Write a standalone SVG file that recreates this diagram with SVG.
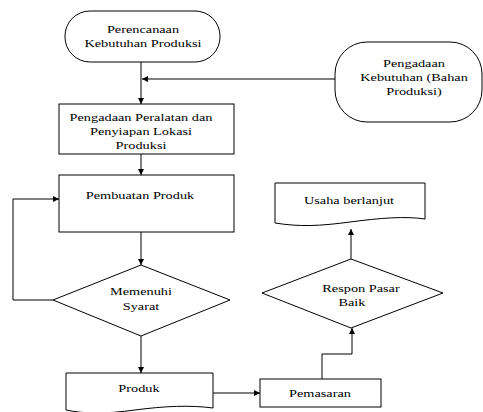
<svg xmlns="http://www.w3.org/2000/svg" width="483" height="412" viewBox="0 0 483 412">
<style>
.s{fill:#fff;stroke:#000;stroke-width:1}
.c{fill:none;stroke:#000;stroke-width:1}
.t{font-family:"Liberation Serif","Times New Roman","DejaVu Serif",serif;font-size:11px;fill:#000;text-anchor:middle}
</style>
<defs>
<marker id="a" viewBox="0 0 10 10" refX="10" refY="5" markerWidth="6" markerHeight="6" orient="auto" markerUnits="userSpaceOnUse">
<path d="M0,0 L10,5 L0,10 Z" fill="#000"/>
</marker>
</defs>
<rect width="483" height="412" fill="#fff"/>
<g id="connectors">
<path class="c" d="M141,62 V104" marker-end="url(#a)"/>
<path class="c" d="M335,79 H142" marker-end="url(#a)"/>
<path class="c" d="M141,154 V175" marker-end="url(#a)"/>
<path class="c" d="M141,232 V265" marker-end="url(#a)"/>
<path class="c" d="M53,300 H13 V199 H59" marker-end="url(#a)"/>
<path class="c" d="M141,336 V373" marker-end="url(#a)"/>
<path class="c" d="M213,393 H260" marker-end="url(#a)"/>
<path class="c" d="M322,379 V354 H352 V328" marker-end="url(#a)"/>
<path class="c" d="M351,259 V229" marker-end="url(#a)"/>
</g>
<g id="n1">
<rect class="s" x="65" y="11" width="155" height="51" rx="25" ry="25"/>
<g class="t" transform="translate(143,0) scale(1.3,1)">
<text x="0" y="33">Perencanaan</text>
<text x="0" y="47">Kebutuhan Produksi</text>
</g>
</g>
<g id="n2">
<rect class="s" x="335" y="42" width="147" height="80" rx="32" ry="32"/>
<g class="t" transform="translate(414,0) scale(1.3,1)">
<text x="0" y="67">Pengadaan</text>
<text x="0" y="81">Kebutuhan (Bahan</text>
<text x="0" y="95">Produksi)</text>
</g>
</g>
<g id="n3">
<rect class="s" x="59" y="104" width="175" height="50"/>
<g class="t" transform="translate(141,0) scale(1.3,1)">
<text x="0" y="121">Pengadaan Peralatan dan</text>
<text x="0" y="135">Penyiapan Lokasi</text>
<text x="0" y="149">Produksi</text>
</g>
</g>
<g id="n4">
<rect class="s" x="59" y="175" width="175" height="57"/>
<g class="t" transform="translate(140,0) scale(1.3,1)">
<text x="0" y="199">Pembuatan Produk</text>
</g>
</g>
<g id="n5">
<polygon class="s" points="141,265 230,300 141,336 53,300"/>
<g class="t" transform="translate(141,0) scale(1.3,1)">
<text x="0" y="295">Memenuhi</text>
<text x="0" y="310">Syarat</text>
</g>
</g>
<g id="n6">
<path class="s" d="M66,373 H213 V408 C190,405 165,406 135,410 C105,414 85,414 66,410 Z"/>
<g class="t" transform="translate(139,0) scale(1.3,1)">
<text x="0" y="392">Produk</text>
</g>
</g>
<g id="n7">
<rect class="s" x="260" y="379" width="121" height="28"/>
<g class="t" transform="translate(320,0) scale(1.3,1)">
<text x="0" y="397">Pemasaran</text>
</g>
</g>
<g id="n8">
<polygon class="s" points="351,259 443,293 351,328 262,293"/>
<g class="t" transform="translate(361,0) scale(1.3,1)">
<text x="0" y="292">Respon Pasar</text>
</g>
<g class="t" transform="translate(352,0) scale(1.3,1)">
<text x="0" y="306">Baik</text>
</g>
</g>
<g id="n9">
<path class="s" d="M275,183 H425 V219 C405,216 380,218 350,222 C320,226 300,227 275,223 Z"/>
<g class="t" transform="translate(349,0) scale(1.3,1)">
<text x="0" y="204">Usaha berlanjut</text>
</g>
</g>
</svg>
